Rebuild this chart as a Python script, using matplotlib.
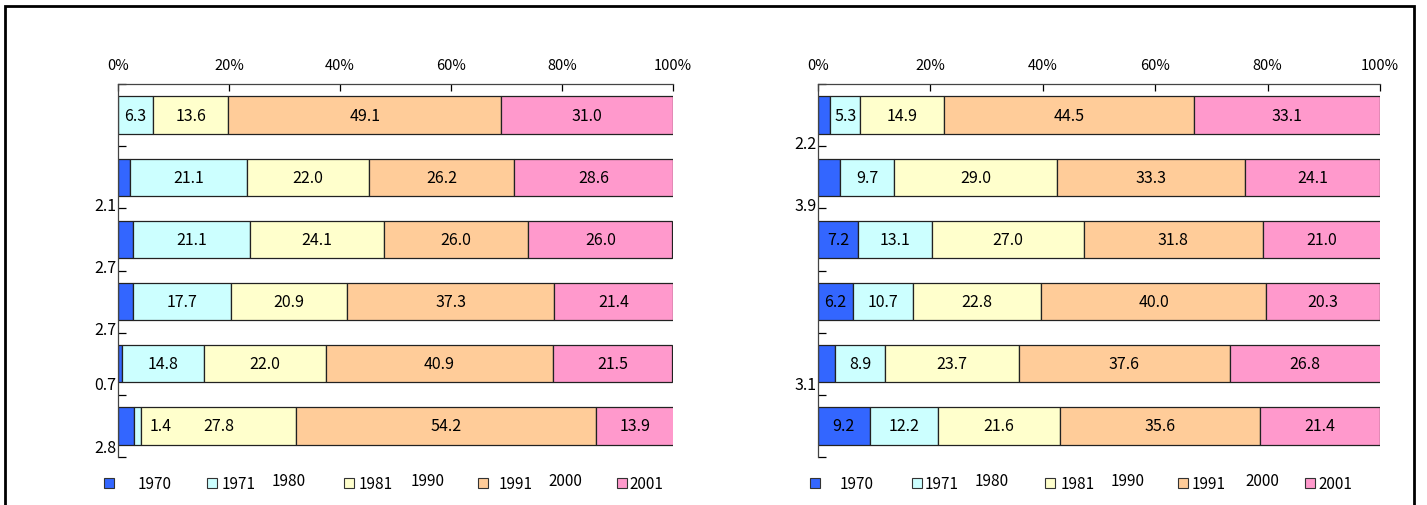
import matplotlib
matplotlib.use("Agg")
import numpy as np
import matplotlib.pyplot as plt
from matplotlib.patches import Rectangle

plt.rcParams['font.family'] = ['Noto Sans CJK JP', 'DejaVu Sans']

# ---- data (rows top to bottom) ----
periods = ["1970", "1971  1980", "1981  1990", "1991  2000", "2001"]
colors = ["#3366FF", "#CCFFFF", "#FFFFCC", "#FFCC99", "#FF99CC"]

left_1970 = [0.0, 2.1, 2.7, 2.7, 0.7, 2.8]
left_1980 = [6.3, 21.1, 21.1, 17.7, 14.8, 1.4]
left_1990 = [13.6, 22.0, 24.1, 20.9, 22.0, 27.8]
left_2000 = [49.1, 26.2, 26.0, 37.3, 40.9, 54.2]
left_2001 = [31.0, 28.6, 26.0, 21.4, 21.5, 13.9]

right_1970 = [2.2, 3.9, 7.2, 6.2, 3.1, 9.2]
right_1980 = [5.3, 9.7, 13.1, 10.7, 8.9, 12.2]
right_1990 = [14.9, 29.0, 27.0, 22.8, 23.7, 21.6]
right_2000 = [44.5, 33.3, 31.8, 40.0, 37.6, 35.6]
right_2001 = [33.1, 24.1, 21.0, 20.3, 26.8, 21.4]

xticks = [0, 20, 40, 60, 80, 100]
xticklabels = ["0%", "20%", "40%", "60%", "80%", "100%"]

fig = plt.figure(figsize=(14.27, 5.06), dpi=100)

# outer frame
fig.patches.append(Rectangle((5/1427, -0.05), 1409/1427, 1.05 - 7/506,
                             transform=fig.transFigure, fill=False,
                             edgecolor='black', lw=2, clip_on=False))

ax1 = fig.add_axes([118/1427, 1-458/506, 555/1427, 373/506])
ax2 = fig.add_axes([818/1427, 1-458/506, 562/1427, 373/506])


def draw(ax, series, legend_x, legend_tx):
    n = len(series[0])
    y = np.arange(n)
    left = np.zeros(n)
    for k, vals in enumerate(series):
        vals = np.array(vals)
        ax.barh(y, vals, left=left, height=0.6, color=colors[k],
                edgecolor='#222222', linewidth=0.9)
        for i in range(n):
            v = vals[i]
            if v == 0:
                continue
            if k == 0 and v < 5:
                # small value written outside, left of axis
                dy = 0.15 if i < 4 else 0.04
                ax.annotate(f"{v:.1f}", xy=(0, y[i] + 0.3 + dy), xytext=(-1, 0),
                            textcoords='offset points', ha='right', va='center',
                            fontsize=11.5, annotation_clip=False)
            elif k == 1 and v < 2:
                ax.text(left[i] + v + 3.5, y[i], f"{v:.1f}", ha='center',
                        va='center', fontsize=11.5)
            else:
                ax.text(left[i] + v / 2, y[i], f"{v:.1f}", ha='center',
                        va='center', fontsize=11.5)
        left = left + vals

    ax.set_xlim(0, 100)
    ax.set_ylim(n - 0.5, -0.5)
    ax.xaxis.tick_top()
    ax.set_xticks(xticks)
    ax.set_xticklabels(xticklabels, fontsize=10.5)
    ax.tick_params(axis='x', direction='in', length=5, pad=8.5, width=0.9)
    ax.set_yticks(np.arange(-0.5, n, 1.0))
    ax.set_yticklabels([])
    ax.tick_params(axis='y', direction='in', length=6, width=0.9)
    for s in ['right', 'bottom']:
        ax.spines[s].set_visible(False)
    for s in ['left', 'top']:
        ax.spines[s].set_linewidth(0.9)
        ax.spines[s].set_color('#444444')

    # legend drawn by hand below the axes
    parts = [p.split("  ") for p in periods]
    for k in range(len(periods)):
        ax.add_patch(Rectangle((legend_x[k], -0.082), 0.018, 0.027,
                               transform=ax.transAxes, facecolor=colors[k],
                               edgecolor='#333333', lw=0.8, clip_on=False))
        tx = legend_tx[k]
        ax.text(tx[0], -0.07, parts[k][0], transform=ax.transAxes,
                ha='left', va='center', fontsize=11)
        if len(parts[k]) > 1:
            ax.text(tx[1], -0.062, parts[k][1], transform=ax.transAxes,
                    ha='left', va='center', fontsize=11)


draw(ax1, [left_1970, left_1980, left_1990, left_2000, left_2001],
     [-0.025, 0.160, 0.407, 0.649, 0.899],
     [(0.036,), (0.187, 0.277), (0.434, 0.528), (0.685, 0.775), (0.922,)])
draw(ax2, [right_1970, right_1980, right_1990, right_2000, right_2001],
     [-0.014, 0.167, 0.404, 0.641, 0.867],
     [(0.039,), (0.190, 0.279), (0.431, 0.520), (0.665, 0.760), (0.890,)])

fig.savefig("out.png", dpi=100)
